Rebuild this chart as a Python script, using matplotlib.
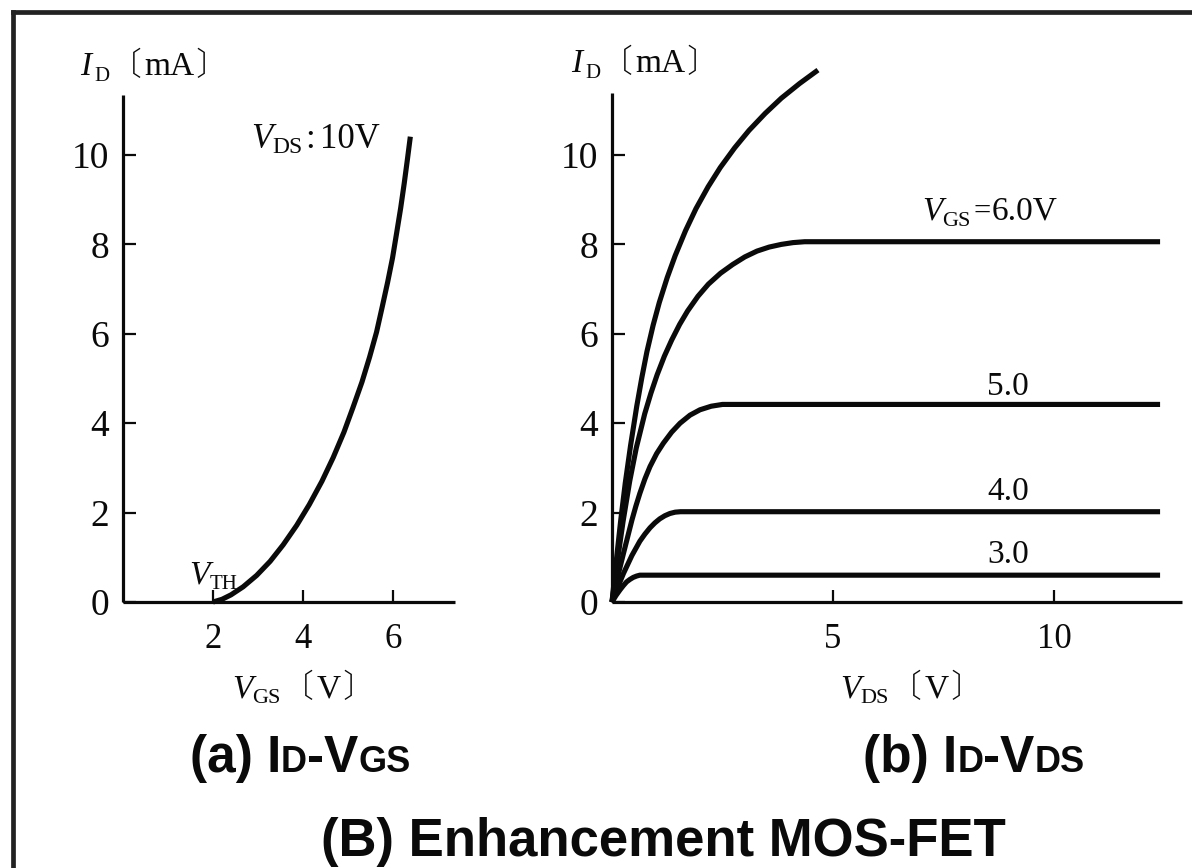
import matplotlib
matplotlib.use("Agg")
import matplotlib.pyplot as plt
from matplotlib.lines import Line2D

# ---------------- data ----------------
# (a) ID-VGS, VDS = 10 V
vgs_a = [2.00, 2.20, 2.40, 2.67, 2.97, 3.27, 3.56, 3.86, 4.14, 4.42, 4.67, 4.91,
         5.11, 5.31, 5.48, 5.635, 5.76, 5.88, 5.99, 6.08, 6.17, 6.25, 6.32, 6.385]
id_a = [0.00, 0.06, 0.16, 0.34, 0.595, 0.91, 1.28, 1.715, 2.18, 2.70, 3.23, 3.80,
        4.35, 4.92, 5.48, 6.04, 6.60, 7.15, 7.70, 8.25, 8.81, 9.37, 9.90, 10.41]

# (b) ID-VDS family (top curve unlabeled, then VGS = 6, 5, 4, 3 V)
vds_7 = [0.0, 0.10, 0.20, 0.30, 0.42, 0.56, 0.675, 0.79, 0.93, 1.07, 1.25, 1.43, 1.665,
         1.90, 2.175, 2.45, 2.775, 3.10, 3.465, 3.83, 4.245, 4.66]
id_7 = [0.0, 0.95, 1.85, 2.66, 3.50, 4.38, 5.02, 5.60, 6.19, 6.70, 7.26, 7.75, 8.31,
        8.80, 9.29, 9.72, 10.16, 10.55, 10.93, 11.27, 11.60, 11.90]

vds_6 = [0.0, 0.12, 0.25, 0.40, 0.55, 0.74, 0.88, 1.02, 1.185, 1.35, 1.53, 1.71, 1.945,
         2.18, 2.455, 2.73, 3.005, 3.28, 3.555, 3.83, 4.095, 4.36, 12.4]
id_6 = [0.0, 0.90, 1.80, 2.70, 3.45, 4.21, 4.67, 5.08, 5.50, 5.86, 6.21, 6.51, 6.84,
        7.11, 7.355, 7.55, 7.72, 7.85, 7.94, 8.00, 8.04, 8.06, 8.06]

vds_5 = [0.0, 0.11, 0.26, 0.45, 0.54, 0.63, 0.745, 0.86, 1.01, 1.16, 1.35, 1.54, 1.765,
         1.99, 2.245, 2.50, 12.4]
id_5 = [0.0, 0.49, 1.09, 1.83, 2.145, 2.43, 2.755, 3.03, 3.32, 3.55, 3.80, 4.00, 4.18,
        4.30, 4.38, 4.42, 4.42]

vds_4 = [0.0, 0.11, 0.26, 0.45, 0.63, 0.745, 0.86, 0.97, 1.08, 1.195, 1.31, 1.43, 1.55, 12.4]
id_4 = [0.0, 0.28, 0.64, 1.04, 1.36, 1.52, 1.66, 1.77, 1.86, 1.93, 1.98, 2.01, 2.02, 2.02]

vds_3 = [0.0, 0.09, 0.18, 0.255, 0.33, 0.405, 0.48, 0.555, 0.63, 0.75, 12.4]
id_3 = [0.0, 0.145, 0.27, 0.365, 0.45, 0.505, 0.55, 0.58, 0.60, 0.60, 0.60]

curve_labels = ["6.0V", "5.0", "4.0", "3.0"]

left_xticks = [2, 4, 6]
left_yticks = [0, 2, 4, 6, 8, 10]
right_xticks = [5, 10]
right_yticks = [0, 2, 4, 6, 8, 10]

# ---------------- figure ----------------
W, H = 1192, 868
fig = plt.figure(figsize=(W / 100, H / 100), dpi=100)
fig.patch.set_facecolor("white")

SERIF = ["Liberation Serif", "DejaVu Serif"]
BR = ["Noto Sans CJK JP", "DejaVu Sans"]
SANS = ["Liberation Sans", "DejaVu Sans"]
INK = "#0a0a0a"


def ax_rect(x0, x1, y_top, y0):
    return [x0 / W, 1 - y0 / H, (x1 - x0) / W, (y0 - y_top) / H]


def style(ax, xticks, yticks, xlim, ylim):
    ax.set_xlim(*xlim)
    ax.set_ylim(*ylim)
    for s in ("top", "right"):
        ax.spines[s].set_visible(False)
    for s in ("left", "bottom"):
        ax.spines[s].set_linewidth(2.3)
        ax.spines[s].set_color(INK)
        ax.spines[s].set_capstyle("butt")
    ax.set_xticks(xticks)
    ax.set_yticks(yticks)
    ax.set_xticklabels([str(t) for t in xticks], fontfamily=SERIF, fontsize=25)
    ax.set_yticklabels([str(t) for t in yticks], fontfamily=SERIF, fontsize=27)
    ax.tick_params(axis="x", direction="in", length=9, width=1.6, pad=15, colors=INK)
    ax.tick_params(axis="y", direction="in", length=9, width=1.6, pad=10, colors=INK)
    ax.patch.set_alpha(0)


# left axes: x0 px=123 (0 V), 45 px/V ; y0 px=602, 44.7 px/mA
axL = fig.add_axes(ax_rect(123, 455, 95, 602))
style(axL, left_xticks, left_yticks, (0, 332 / 45), (0, 507 / 44.7))
axL.plot(vgs_a, id_a, color=INK, lw=3.7, solid_capstyle="butt",
         solid_joinstyle="round", clip_on=False)

# right axes: x0 px=612, 44.2 px/V
axR = fig.add_axes(ax_rect(612, 1182, 93, 602))
style(axR, right_xticks, right_yticks, (0, 570 / 44.2), (0, 509 / 44.7))
for xs, ys in ((vds_7, id_7), (vds_6, id_6), (vds_5, id_5), (vds_4, id_4), (vds_3, id_3)):
    axR.plot(xs, ys, color=INK, lw=3.7, solid_capstyle="butt",
             solid_joinstyle="round", clip_on=False)

# ---------------- text helpers ----------------
renderer = fig.canvas.get_renderer()


def place(x, y, pieces, ha="left"):
    objs = []
    cur = x
    for s, kw in pieces:
        kw = dict(kw)
        dy = kw.pop("dy", 0)
        gap = kw.pop("gap", 0)
        cur += gap
        t = fig.text(cur / W, 1 - (y + dy) / H, s, ha="left", va="baseline",
                     color=INK, **kw)
        objs.append(t)
        cur += t.get_window_extent(renderer).width
    total = cur - x
    if ha == "center":
        for t in objs:
            px, py = t.get_position()
            t.set_position((px - total / 2 / W, py))
    return objs


def it(sz):
    return dict(fontfamily=SERIF, fontstyle="italic", fontsize=sz)


def rm(sz, **k):
    d = dict(fontfamily=SERIF, fontsize=sz)
    d.update(k)
    return d


def br(sz, **k):
    d = dict(fontfamily=BR, fontsize=sz, fontweight="light")
    d.update(k)
    return d


# axis labels
for x0, y0 in ((80, 75), (571, 72)):
    place(x0, y0, [("I", it(24)), ("D", rm(15, dy=6, gap=3)), ("〔", br(23, gap=1)),
                   ("mA", rm(24, gap=2)), ("〕", br(23, gap=1))])

place(251, 148, [("V", it(25)), ("DS", rm(17, dy=5)), (":", rm(25, gap=3)),
                 ("10V", rm(25, gap=5))])
place(189, 583, [("V", it(24)), ("TH", rm(15, dy=6))])
place(303, 697, [("V", it(24)), ("GS", rm(16, dy=6)), ("〔", br(23, gap=1)),
                 ("V", rm(24, gap=3)), ("〕", br(23, gap=1))], ha="center")
place(911, 697, [("V", it(24)), ("DS", rm(16, dy=6)), ("〔", br(23, gap=1)),
                 ("V", rm(24, gap=3)), ("〕", br(23, gap=1))], ha="center")

# curve labels
place(922, 220, [("V", it(24)), ("GS", rm(16, dy=6)), ("=", rm(22, gap=3)),
                 (curve_labels[0], rm(24, gap=1))])
fig.text(1008 / W, 1 - 395 / H, curve_labels[1], ha="center", va="baseline", color=INK, **rm(24))
fig.text(1008 / W, 1 - 500 / H, curve_labels[2], ha="center", va="baseline", color=INK, **rm(24))
fig.text(1008 / W, 1 - 563 / H, curve_labels[3], ha="center", va="baseline", color=INK, **rm(24))


# captions
def sb(sz):
    return dict(fontfamily=SANS, fontweight="bold", fontsize=sz)


place(300, 772, [("(a) I", sb(37)), ("D", sb(26)), ("-V", sb(37)), ("GS", sb(26))], ha="center")
place(974, 772, [("(b) I", sb(37)), ("D", sb(26)), ("-V", sb(37)), ("DS", sb(26))], ha="center")
place(663, 856, [("(B) Enhancement MOS-FET", sb(38))], ha="center")

# frame (top and left edges of the scanned box)
fig.add_artist(Line2D([13 / W, 1.0], [1 - 12 / H, 1 - 12 / H], color="#222222", lw=3.4,
                      transform=fig.transFigure, solid_capstyle="projecting"))
fig.add_artist(Line2D([13 / W, 13 / W], [1 - 12 / H, 0.0], color="#222222", lw=3.4,
                      transform=fig.transFigure, solid_capstyle="projecting"))

fig.savefig("out.png", dpi=100, facecolor="white")
